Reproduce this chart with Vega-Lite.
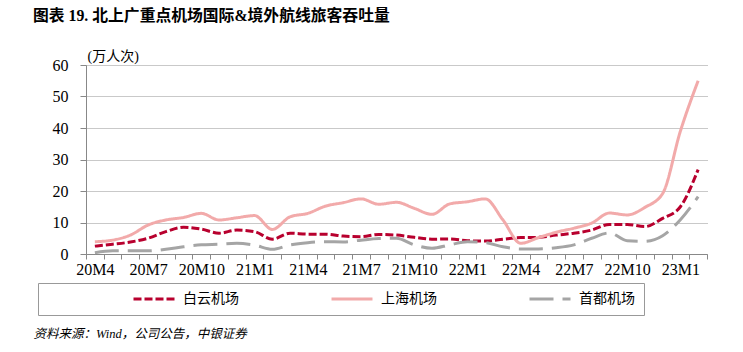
{
  "$schema": "https://vega.github.io/schema/vega-lite/v6.json",
  "width": 621,
  "height": 189,
  "autosize": {"type": "none"},
  "padding": {"left": 86, "top": 65, "right": 36, "bottom": 98},
  "background": "#ffffff",
  "title": {
    "text": "图表 19. 北上广重点机场国际&境外航线旅客吞吐量",
    "anchor": "start",
    "frame": "group",
    "dx": -53,
    "offset": 24,
    "font": "Liberation Serif, Noto Sans CJK SC",
    "fontSize": 15.8,
    "fontWeight": "bold",
    "color": "#000000"
  },
  "config": {
    "view": {"stroke": null},
    "axis": {"labelFont": "Liberation Serif", "labelFontSize": 16, "labelColor": "#000000"}
  },
  "data": {
    "values": [
      {"m": "20M4", "s": "白云机场", "v": 2.5}, {"m": "20M5", "s": "白云机场", "v": 3.1}, {"m": "20M6", "s": "白云机场", "v": 3.8},
      {"m": "20M7", "s": "白云机场", "v": 5.0}, {"m": "20M8", "s": "白云机场", "v": 7.1}, {"m": "20M9", "s": "白云机场", "v": 8.5},
      {"m": "20M10", "s": "白云机场", "v": 7.9}, {"m": "20M11", "s": "白云机场", "v": 6.6}, {"m": "20M12", "s": "白云机场", "v": 7.6},
      {"m": "21M1", "s": "白云机场", "v": 7.1}, {"m": "21M2", "s": "白云机场", "v": 4.7}, {"m": "21M3", "s": "白云机场", "v": 6.6},
      {"m": "21M4", "s": "白云机场", "v": 6.3}, {"m": "21M5", "s": "白云机场", "v": 6.3}, {"m": "21M6", "s": "白云机场", "v": 5.7},
      {"m": "21M7", "s": "白云机场", "v": 5.5}, {"m": "21M8", "s": "白云机场", "v": 6.2}, {"m": "21M9", "s": "白云机场", "v": 6.0},
      {"m": "21M10", "s": "白云机场", "v": 5.3}, {"m": "21M11", "s": "白云机场", "v": 4.7}, {"m": "21M12", "s": "白云机场", "v": 4.8},
      {"m": "22M1", "s": "白云机场", "v": 4.2}, {"m": "22M2", "s": "白云机场", "v": 4.1}, {"m": "22M3", "s": "白云机场", "v": 4.7},
      {"m": "22M4", "s": "白云机场", "v": 5.2}, {"m": "22M5", "s": "白云机场", "v": 5.3}, {"m": "22M6", "s": "白云机场", "v": 6.0},
      {"m": "22M7", "s": "白云机场", "v": 6.6}, {"m": "22M8", "s": "白云机场", "v": 7.6}, {"m": "22M9", "s": "白云机场", "v": 9.4},
      {"m": "22M10", "s": "白云机场", "v": 9.4}, {"m": "22M11", "s": "白云机场", "v": 8.7}, {"m": "22M12", "s": "白云机场", "v": 11.3},
      {"m": "23M1", "s": "白云机场", "v": 15.0}, {"m": "23M2", "s": "白云机场", "v": 26.8},
      {"m": "20M4", "s": "上海机场", "v": 3.9}, {"m": "20M5", "s": "上海机场", "v": 4.4}, {"m": "20M6", "s": "上海机场", "v": 6.0},
      {"m": "20M7", "s": "上海机场", "v": 9.2}, {"m": "20M8", "s": "上海机场", "v": 10.8}, {"m": "20M9", "s": "上海机场", "v": 11.6},
      {"m": "20M10", "s": "上海机场", "v": 12.9}, {"m": "20M11", "s": "上海机场", "v": 10.8}, {"m": "20M12", "s": "上海机场", "v": 11.5},
      {"m": "21M1", "s": "上海机场", "v": 12.2}, {"m": "21M2", "s": "上海机场", "v": 7.8}, {"m": "21M3", "s": "上海机场", "v": 11.8},
      {"m": "21M4", "s": "上海机场", "v": 12.9}, {"m": "21M5", "s": "上海机场", "v": 15.2}, {"m": "21M6", "s": "上海机场", "v": 16.3},
      {"m": "21M7", "s": "上海机场", "v": 17.5}, {"m": "21M8", "s": "上海机场", "v": 15.8}, {"m": "21M9", "s": "上海机场", "v": 16.4},
      {"m": "21M10", "s": "上海机场", "v": 14.5}, {"m": "21M11", "s": "上海机场", "v": 12.6}, {"m": "21M12", "s": "上海机场", "v": 15.9},
      {"m": "22M1", "s": "上海机场", "v": 16.6}, {"m": "22M2", "s": "上海机场", "v": 17.5}, {"m": "22M3", "s": "上海机场", "v": 10.8},
      {"m": "22M4", "s": "上海机场", "v": 3.4}, {"m": "22M5", "s": "上海机场", "v": 5.2}, {"m": "22M6", "s": "上海机场", "v": 6.9},
      {"m": "22M7", "s": "上海机场", "v": 8.2}, {"m": "22M8", "s": "上海机场", "v": 9.8}, {"m": "22M9", "s": "上海机场", "v": 13.0},
      {"m": "22M10", "s": "上海机场", "v": 12.4}, {"m": "22M11", "s": "上海机场", "v": 14.8}, {"m": "22M12", "s": "上海机场", "v": 19.2},
      {"m": "23M1", "s": "上海机场", "v": 39.0}, {"m": "23M2", "s": "上海机场", "v": 55.0},
      {"m": "20M4", "s": "首都机场", "v": 0.4}, {"m": "20M5", "s": "首都机场", "v": 1.0}, {"m": "20M6", "s": "首都机场", "v": 1.05},
      {"m": "20M7", "s": "首都机场", "v": 1.0}, {"m": "20M8", "s": "首都机场", "v": 1.5}, {"m": "20M9", "s": "首都机场", "v": 2.3},
      {"m": "20M10", "s": "首都机场", "v": 2.9}, {"m": "20M11", "s": "首都机场", "v": 3.1}, {"m": "20M12", "s": "首都机场", "v": 3.4},
      {"m": "21M1", "s": "首都机场", "v": 2.8}, {"m": "21M2", "s": "首都机场", "v": 1.5}, {"m": "21M3", "s": "首都机场", "v": 2.9},
      {"m": "21M4", "s": "首都机场", "v": 3.6}, {"m": "21M5", "s": "首都机场", "v": 3.9}, {"m": "21M6", "s": "首都机场", "v": 3.8},
      {"m": "21M7", "s": "首都机场", "v": 4.4}, {"m": "21M8", "s": "首都机场", "v": 4.9}, {"m": "21M9", "s": "首都机场", "v": 5.0},
      {"m": "21M10", "s": "首都机场", "v": 2.9}, {"m": "21M11", "s": "首都机场", "v": 1.8}, {"m": "21M12", "s": "首都机场", "v": 2.9},
      {"m": "22M1", "s": "首都机场", "v": 3.9}, {"m": "22M2", "s": "首都机场", "v": 3.6}, {"m": "22M3", "s": "首都机场", "v": 2.3},
      {"m": "22M4", "s": "首都机场", "v": 1.6}, {"m": "22M5", "s": "首都机场", "v": 1.6}, {"m": "22M6", "s": "首都机场", "v": 2.0},
      {"m": "22M7", "s": "首都机场", "v": 2.9}, {"m": "22M8", "s": "首都机场", "v": 5.0}, {"m": "22M9", "s": "首都机场", "v": 6.7},
      {"m": "22M10", "s": "首都机场", "v": 4.2}, {"m": "22M11", "s": "首都机场", "v": 4.0}, {"m": "22M12", "s": "首都机场", "v": 5.8},
      {"m": "23M1", "s": "首都机场", "v": 10.9}, {"m": "23M2", "s": "首都机场", "v": 18.2}
    ]
  },
  "mark": {"type": "line", "interpolate": "monotone", "strokeWidth": 3},
  "encoding": {
    "x": {
      "field": "m",
      "type": "ordinal",
      "sort": null,
      "scale": {"type": "band", "paddingInner": 0, "paddingOuter": 0},
      "axis": {
        "tickBand": "extent",
        "labelAngle": 0,
        "labelOverlap": false,
        "labelFlush": false,
        "labelPadding": 2,
        "tickSize": 5,
        "tickColor": "#888888",
        "domainColor": "#888888",
        "labelExpr": "indexof(['20M4','20M7','20M10','21M1','21M4','21M7','21M10','22M1','22M4','22M7','22M10','23M1'], datum.value) >= 0 ? datum.value : ''",
        "title": "资料来源：Wind，公司公告，中银证券",
        "titleX": -53,
        "titleY": 83,
        "titleAlign": "left",
        "titleBaseline": "alphabetic",
        "titleAnchor": null,
        "titleFont": "Liberation Serif, Noto Sans CJK SC",
        "titleFontSize": 12.5,
        "titleFontStyle": "italic",
        "titleFontWeight": "normal",
        "titleColor": "#000000"
      }
    },
    "y": {
      "field": "v",
      "type": "quantitative",
      "scale": {"domain": [0, 60], "nice": false},
      "axis": {
        "values": [0, 10, 20, 30, 40, 50, 60],
        "tickSize": 6,
        "labelPadding": 12,
        "tickColor": "#888888",
        "domainColor": "#888888",
        "grid": true,
        "gridColor": "#777777",
        "gridDash": [1, 1],
        "gridWidth": 0.8,
        "title": "(万人次)",
        "titleAngle": 0,
        "titleX": 1,
        "titleY": -5,
        "titleAlign": "left",
        "titleBaseline": "alphabetic",
        "titleAnchor": null,
        "titleFont": "Liberation Serif, Noto Sans CJK SC",
        "titleFontSize": 14,
        "titleFontWeight": "normal",
        "titleColor": "#000000"
      }
    },
    "color": {
      "field": "s",
      "type": "nominal",
      "scale": {"domain": ["白云机场", "上海机场", "首都机场"], "range": ["#B8002E", "#F2AAAA", "#A5A5A5"]},
      "legend": {
        "orient": "none",
        "legendX": -48,
        "legendY": 218,
        "direction": "horizontal",
        "columns": 3,
        "columnPadding": 91,
        "padding": 9,
        "strokeColor": "#999999",
        "symbolType": "stroke",
        "symbolSize": 1681,
        "symbolStrokeWidth": 3,
        "clipHeight": 14,
        "labelOffset": 7,
        "labelFont": "Noto Sans CJK SC",
        "labelFontSize": 14,
        "labelColor": "#000000",
        "labelLimit": 400,
        "labelExpr": "datum.label == '首都机场' ? datum.label + '\u3000\u3000\u3000\u3000\u3000\u00a0\u00a0\u00a0' : datum.label",
        "title": "\u3000",
        "titleOrient": "left",
        "titleFont": "Noto Sans CJK SC",
        "titleFontSize": 14,
        "titlePadding": 85
      }
    },
    "strokeDash": {
      "field": "s",
      "type": "nominal",
      "scale": {"domain": ["白云机场", "上海机场", "首都机场"], "range": [[8, 3], [1, 0], [24, 9]]}
    }
  }
}
